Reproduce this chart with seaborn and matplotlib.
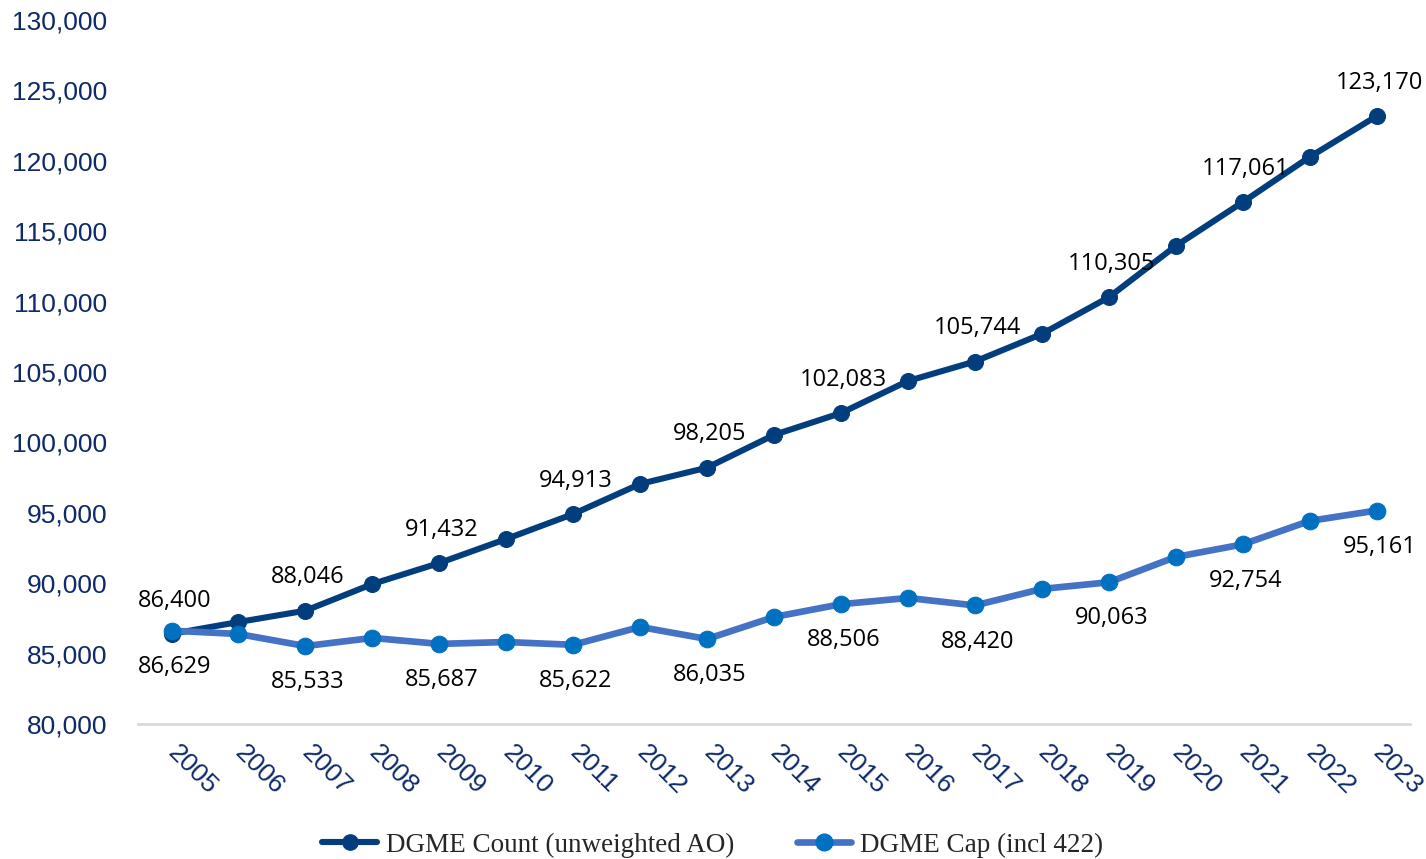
import matplotlib
matplotlib.use("Agg")
import matplotlib.pyplot as plt
import seaborn as sns
import pandas as pd
from matplotlib.lines import Line2D
from matplotlib.ticker import FuncFormatter

years = list(range(2005, 2024))
dgme_count = [86400, 87240, 88046, 89940, 91432, 93140, 94913, 97050, 98205, 100530,
              102083, 104360, 105744, 107700, 110305, 113950, 117061, 120270, 123170]
dgme_cap = [86629, 86390, 85533, 86110, 85687, 85820, 85622, 86890, 86035, 87600,
            88506, 88950, 88420, 89590, 90063, 91860, 92754, 94420, 95161]
series_names = ["DGME Count (unweighted AO)", "DGME Cap (incl 422)"]
labeled_years = [2005, 2007, 2009, 2011, 2013, 2015, 2017, 2019, 2021, 2023]

df = pd.DataFrame({
    "year": years * 2,
    "value": dgme_count + dgme_cap,
    "series": [series_names[0]] * len(years) + [series_names[1]] * len(years),
})

sns.set_theme(style="white")
plt.rcParams["font.family"] = ["Liberation Sans", "DejaVu Sans"]

fig = plt.figure(figsize=(14.26, 8.59), dpi=100)
ax = fig.add_axes([0.0968, 0.1572, 0.892, 0.8195])

navy = "#023E7D"
line_light = "#4472C4"
mark_light = "#0070C0"
tick_col = "#0F2A6B"

sns.lineplot(data=df[df.series == series_names[1]], x="year", y="value", ax=ax,
             color=line_light, lw=4.8, marker="o", markersize=12,
             markerfacecolor=mark_light, markeredgecolor=mark_light, zorder=3)
sns.lineplot(data=df[df.series == series_names[0]], x="year", y="value", ax=ax,
             color=navy, lw=4.4, marker="o", markersize=11.5,
             markerfacecolor=navy, markeredgecolor=navy, zorder=2)

ax.set_xlim(2004.5, 2023.5)
ax.set_ylim(80000, 130000)
ax.set_yticks(range(80000, 130001, 5000))
ax.yaxis.set_major_formatter(FuncFormatter(lambda v, p: f"{int(v):,}"))
ax.set_xticks(years)
ax.set_xticklabels([str(y) for y in years], rotation=-45, ha="left",
                   rotation_mode="anchor", va="center")
ax.tick_params(axis="y", labelsize=19, colors=tick_col, length=0, pad=22)
ax.tick_params(axis="x", labelsize=19, colors=tick_col, length=0, pad=18)
ax.set_xlabel("")
ax.set_ylabel("")
for s in ["top", "right", "left"]:
    ax.spines[s].set_visible(False)
ax.spines["bottom"].set_color("#D9D9D9")
ax.spines["bottom"].set_linewidth(2)
ax.grid(False)

for y, c, k in zip(years, dgme_count, dgme_cap):
    if y in labeled_years:
        ax.annotate(f"{c:,}", (y, c), xytext=(2, 24), textcoords="offset points",
                    ha="center", va="center", fontsize=17, color="black",
                    family="Open Sans")
        ax.annotate(f"{k:,}", (y, k), xytext=(2, -26), textcoords="offset points",
                    ha="center", va="center", fontsize=17, color="black",
                    family="Open Sans")

handles = [
    Line2D([0], [0], color=navy, lw=4.4, marker="o", markersize=11,
           markerfacecolor=navy, markeredgecolor=navy),
    Line2D([0], [0], color=line_light, lw=4.8, marker="o", markersize=12,
           markerfacecolor=mark_light, markeredgecolor=mark_light),
]
fig.legend(handles, series_names, loc="center", bbox_to_anchor=(0.5, 0.016),
           ncol=2, frameon=False, prop={"family": "Liberation Serif", "size": 19.5},
           handlelength=2.0, columnspacing=2.3, handletextpad=0.35)

fig.savefig("out.png", dpi=100)
